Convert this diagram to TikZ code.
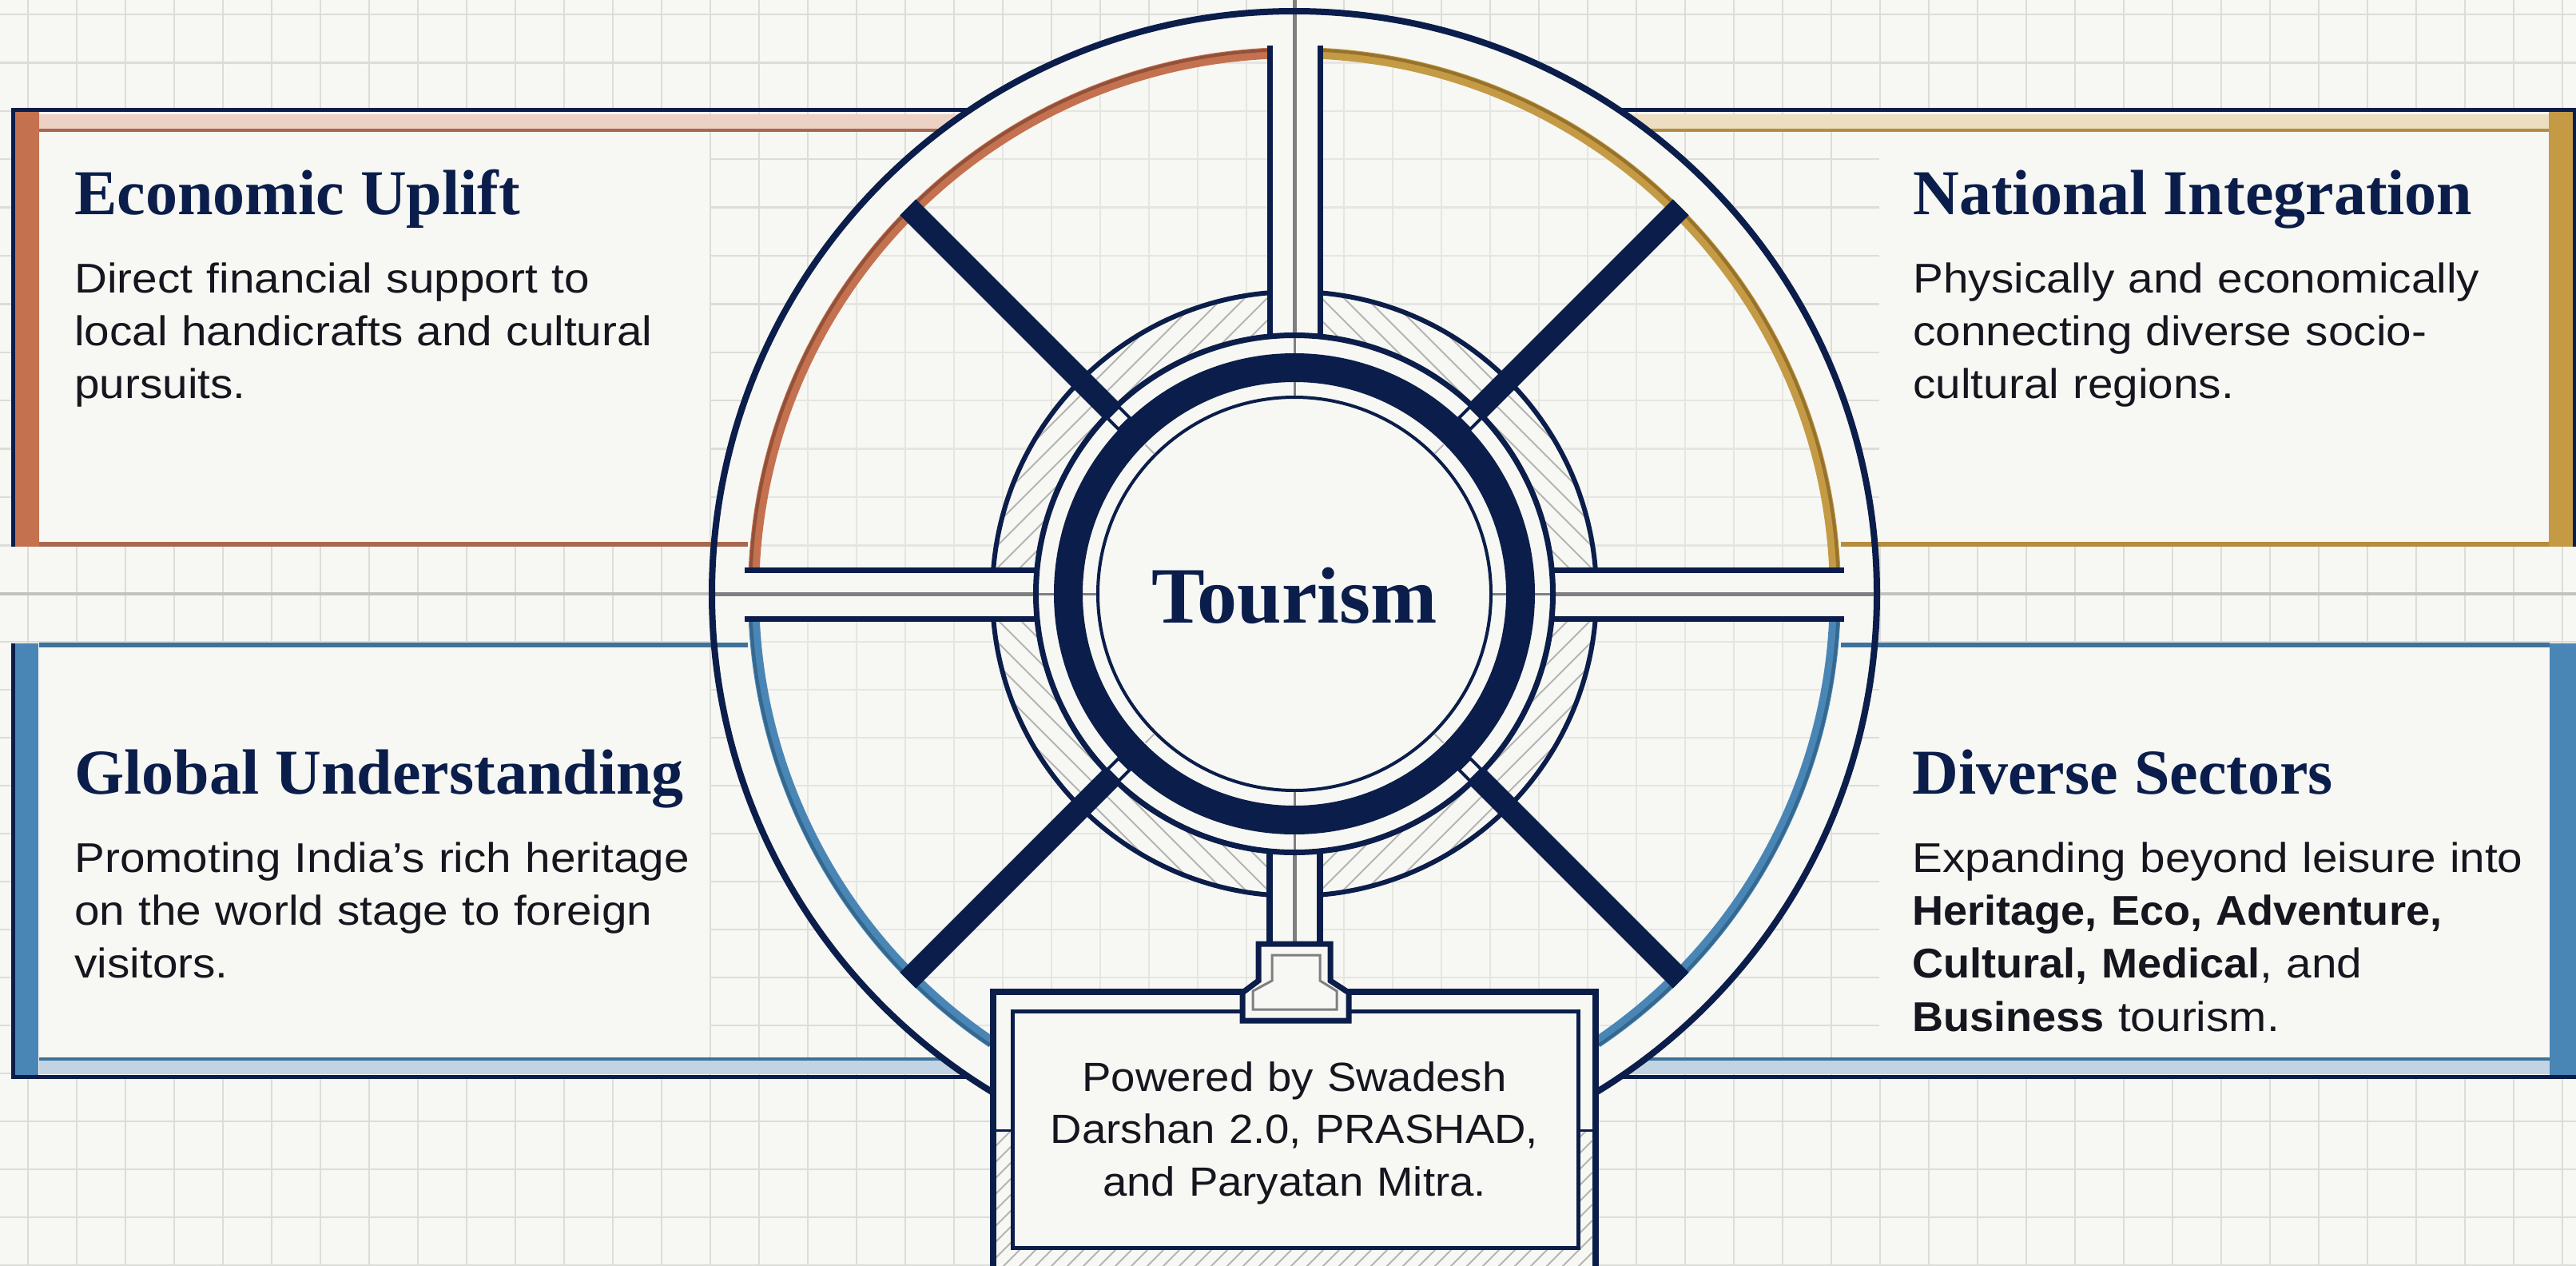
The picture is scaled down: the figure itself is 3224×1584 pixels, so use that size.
\documentclass[tikz,border=0pt]{standalone}
\usepackage{fontspec}
\setmainfont{Liberation Sans}
\newfontfamily\bodyface[FakeStretch=1.09,BoldFeatures={FakeStretch=1.04}]{Liberation Sans}
\newfontfamily\plaqueface[FakeStretch=1.07]{Liberation Sans}
\newfontfamily\titleface{Liberation Serif}
\definecolor{paper}{HTML}{F7F7F3}
\definecolor{navy}{HTML}{0B1D4A}
\definecolor{ink}{HTML}{15161E}
\definecolor{gridc}{HTML}{DCDCD9}
\definecolor{midline}{HTML}{C2C2C0}
\definecolor{spine}{HTML}{7E7F82}
\definecolor{hatchc}{HTML}{B4B5B4}
\definecolor{coral}{HTML}{C4714F}
\definecolor{coraldk}{HTML}{93513A}
\definecolor{coraledge}{HTML}{A8684F}
\definecolor{coralli}{HTML}{ECD1C5}
\definecolor{gold}{HTML}{C49A45}
\definecolor{golddk}{HTML}{96722C}
\definecolor{goldedge}{HTML}{B48D3E}
\definecolor{goldli}{HTML}{EBDEC1}
\definecolor{sky}{HTML}{4A86B5}
\definecolor{skydk}{HTML}{35688F}
\definecolor{skyedge}{HTML}{3F729B}
\definecolor{skyli}{HTML}{C0D4E3}
\tikzset{
  ln/.style={line width=#1*0.5pt},
  navyline/.style={draw=navy,ln=#1},
  titletext/.style={anchor=base west,inner sep=0pt,text=navy,font=\titleface\bfseries\fontsize{40}{46}\selectfont},
  bodytext/.style={anchor=base west,inner sep=0pt,text=ink,text width=500pt,align=left,font=\bodyface\fontsize{26}{33.2}\selectfont},
}
\begin{document}
\begin{tikzpicture}[x=0.5pt,y=-0.5pt]
\useasboundingbox (0,0) rectangle (3224,1584);
\clip (0,0) rectangle (3224,1584);
\fill[paper] (0,0) rectangle (3224,1584);
% grid
\foreach \k in {0,...,52} \draw[gridc,ln=2] ({34.8+61*\k},0) -- ({34.8+61*\k},1584);
\foreach \k in {0,...,11} \draw[gridc,ln=2.5] (0,{18+60.4*\k}) -- (3224,{18+60.4*\k});
\foreach \k in {1,...,14} \draw[gridc,ln=2.5] (0,{743+60*\k}) -- (3224,{743+60*\k});
% panel sheets
\fill[paper] (15,138) rectangle (888,684);
\fill[paper] (2352,138) rectangle (3224,684);
\fill[paper] (15,806) rectangle (888,1347);
\fill[paper] (2352,806) rectangle (3224,1347);
% top-left panel
\fill[coralli] (49,143) rectangle (1250,162);
\draw[coraledge,ln=4] (49,163) -- (1250,163);
\fill[coral] (18,140) rectangle (49,684);
\draw[navyline=5] (16,684) -- (16,138) -- (1250,138);
% top-right panel
\fill[goldli] (1990,143) rectangle (3190,162);
\draw[goldedge,ln=4] (1990,163) -- (3190,163);
\fill[gold] (3190,140) rectangle (3220,684);
\draw[navyline=4] (3222,684) -- (3222,138);
\draw[navyline=5] (1990,138) -- (3224,138);
% lower-left panel
\fill[skyli] (49,1327) rectangle (1250,1344);
\draw[skyedge,ln=4] (49,1325) -- (1250,1325);
\fill[sky] (18,805) rectangle (48,1345);
\draw[navyline=5] (16,805) -- (16,1347) -- (1250,1347);
% lower-right panel
\fill[skyli] (1990,1327) rectangle (3191,1344);
\draw[skyedge,ln=4] (1990,1325) -- (3191,1325);
\fill[sky] (3191,805) rectangle (3224,1345);
\draw[navyline=5] (1990,1347) -- (3224,1347);
% wheel
\begin{scope}[shift={(1620,743)}]
  \fill[paper,opacity=0.35] (0,0) circle (677);
  \fill[paper,even odd rule] (0,0) circle (729) (0,0) circle (677);
  % spoke beds
  \fill[paper] (-688,-30) rectangle (688,31);
  \fill[paper] (-31,-684) rectangle (32,330);
\end{scope}
% lines that cross the rim
\draw[coraledge,ln=6] (49,681) -- (936,681);
\draw[goldedge,ln=6] (2304,681) -- (3190,681);
\draw[skyedge,ln=6] (49,807) -- (936,807);
\draw[skyedge,ln=6] (2304,807) -- (3191,807);
\draw[midline,ln=4] (0,743) -- (3224,743);
\begin{scope}[shift={(1620,743)}]
  % coloured arcs
  \foreach \a/\b/\c/\d in {182.6/267.3/coral/coraldk,272.7/357.4/gold/golddk,2.6/56/sky/skydk,124/177.4/sky/skydk}{
    \draw[\c,ln=14] (\a:677) arc (\a:\b:677);
    \draw[\d,ln=4] (\a:681) arc (\a:\b:681);
  }
  \draw[spine,ln=5] (0,-743) -- (0,440);
  \draw[spine,ln=5] (-729,0) -- (729,0);
  \draw[navyline=8] (0,0) circle (729);
  % hatched collar
  \fill[paper] (0,0) circle (378);
  \begin{scope}[even odd rule]
    \clip (0,0) circle (378) (0,0) circle (323);
    \foreach \k in {320,348,...,600}{
      \draw[hatchc,ln=2] (-\k,0) -- (0,-\k);
      \draw[hatchc,ln=2] (\k,0) -- (0,-\k);
      \draw[hatchc,ln=2] (-\k,0) -- (0,\k);
      \draw[hatchc,ln=2] (\k,0) -- (0,\k);
    }
  \end{scope}
  \draw[navyline=6] (0,0) circle (378);
  % spoke beds over collar
  \fill[paper] (-500,-30) rectangle (500,31);
  \fill[paper] (-31,-500) rectangle (32,500);
  \draw[spine,ln=5] (-500,0) -- (500,0);
  \draw[spine,ln=5] (0,-500) -- (0,450);
  % spoke walls
  \draw[navyline=7] (-688,-30) -- (-320,-30);
  \draw[navyline=7] (-688,31) -- (-320,31);
  \draw[navyline=7] (688,-30) -- (320,-30);
  \draw[navyline=7] (688,31) -- (320,31);
  \draw[navyline=7] (-31,-686) -- (-31,-320);
  \draw[navyline=7] (32,-686) -- (32,-320);
  \draw[navyline=8] (-31,320) -- (-31,440);
  \draw[navyline=8] (32,320) -- (32,440);
  % diagonal bars
  \foreach \a in {45,135,225,315} \draw[navyline=28] (\a:318) -- (\a:684);
  % rings
  \fill[paper] (0,0) circle (323);
  \draw[navyline=7] (0,0) circle (323.5);
  \draw[navyline=36] (0,0) circle (283);
  \draw[navyline=4] (0,0) circle (246);
  \foreach \a in {0,90,180,270}{
    \draw[spine,ln=3] (\a:248) -- (\a:265);
    \draw[spine,ln=3] (\a:301) -- (\a:320);
  }
  \foreach \a in {45,135,225,315}{
    \draw[hatchc,ln=2] (\a:248) -- (\a:264);
    \draw[navy,ln=4,fill=paper] (\a:301) ++({\a+90}:10) -- ++(\a:20) -- ++({\a-90}:20) -- ++({\a+180}:20) -- cycle;
  }
\end{scope}
% plaque
\draw[navyline=8,fill=paper] (1243,1241) rectangle (1997,1620);
\begin{scope}
  \clip (1247,1416) rectangle (1265,1584) (1977,1416) rectangle (1993,1584) (1247,1563) rectangle (1993,1584);
  \foreach \k in {2620,2640,...,3620} \draw[hatchc,ln=2] ({\k-1400},1400) -- ({\k-1600},1600);
\end{scope}
\draw[navyline=3] (1247,1414) -- (1267,1414);
\draw[navyline=3] (1975,1414) -- (1993,1414);
\draw[navyline=5] (1267,1265) rectangle (1975,1561);
\draw[navyline=7,fill=paper] (1575,1181) -- (1665,1181) -- (1665,1227) -- (1688,1242) -- (1688,1277) -- (1555,1277) -- (1555,1242) -- (1575,1227) -- cycle;
\draw[spine,ln=3] (1592,1195) -- (1652,1195) -- (1652,1227) -- (1673,1240) -- (1673,1263) -- (1568,1263) -- (1568,1240) -- (1592,1227) -- cycle;
% text
\node[titletext] (econT) at (93,268) {Economic Uplift};
\node[bodytext] (econB) at (93,366) {Direct financial support to\\local handicrafts and cultural\\pursuits.};
\node[titletext] (natT) at (2394,268) {National Integration};
\node[bodytext] (natB) at (2394,366) {Physically and economically\\connecting diverse socio-\\cultural regions.};
\node[titletext] (gloT) at (93,993) {Global Understanding};
\node[bodytext] (gloB) at (93,1091) {Promoting India’s rich heritage\\on the world stage to foreign\\visitors.};
\node[titletext] (divT) at (2393,993) {Diverse Sectors};
\node[bodytext] (divB) at (2393,1091) {Expanding beyond leisure into\\\textbf{Heritage, Eco, Adventure,}\\\textbf{Cultural, Medical}, and\\\textbf{Business} tourism.};
\node[anchor=base,inner sep=0pt,text=navy,font=\titleface\bfseries\fontsize{50}{56}\selectfont] (hub) at (1620,779) {Tourism};
\node[anchor=base,inner sep=0pt,text=ink,text width=400pt,align=center,font=\plaqueface\fontsize{25.5}{32.8}\selectfont] (pow) at (1620,1365) {Powered by Swadesh\\Darshan 2.0, PRASHAD,\\and Paryatan Mitra.};
\end{tikzpicture}
\end{document}
